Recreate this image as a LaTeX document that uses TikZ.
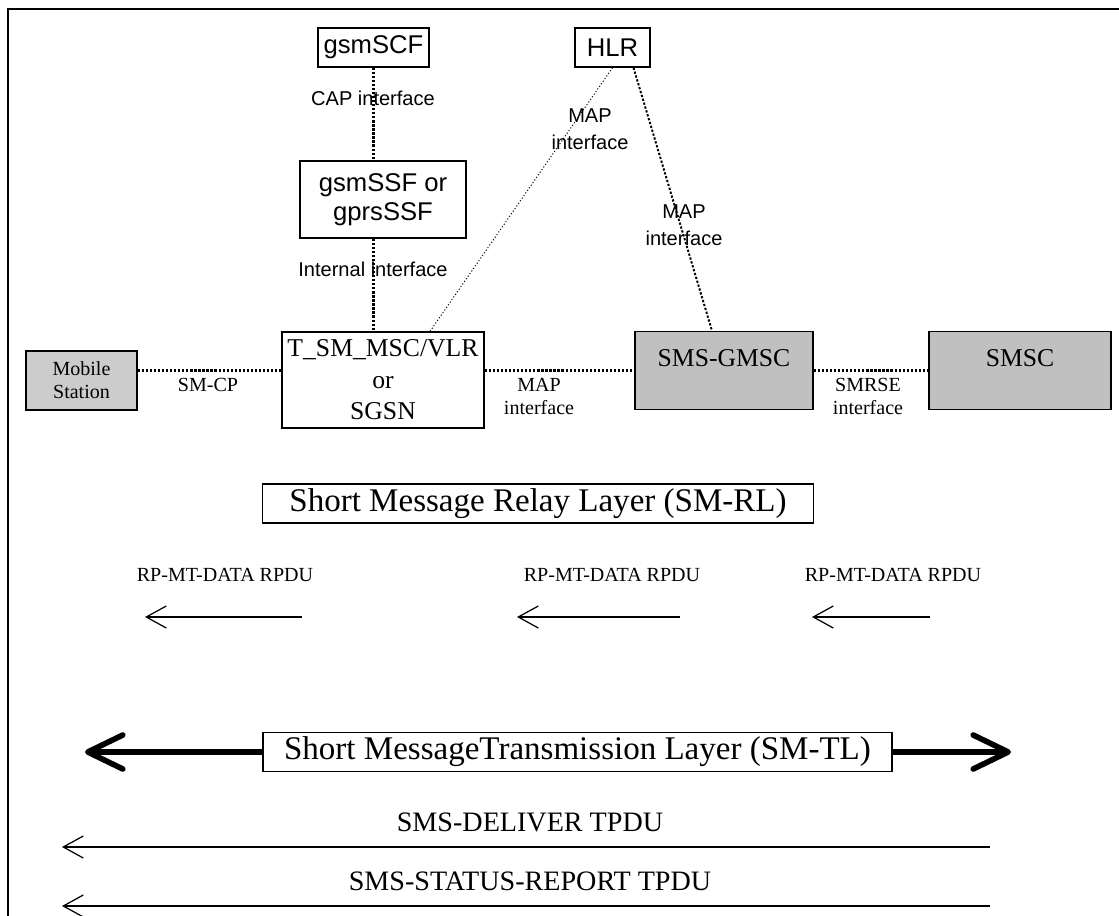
\documentclass[tikz,border=0pt]{standalone}
\usepackage{fontspec}
\setmainfont{Liberation Serif}
\setsansfont{Liberation Sans}
\usepackage{tikz}
\usetikzlibrary{arrows.meta,calc}
\definecolor{boxgray}{HTML}{C0C0C0}
\definecolor{msgray}{HTML}{CCCCCC}
\newcommand{\boxsf}{\sffamily\fontsize{14.6}{16.4}\selectfont}
\newcommand{\labsf}{\sffamily\fontsize{11.4}{15.4}\selectfont}
\newcommand{\boxrm}{\rmfamily\fontsize{14.6}{17.9}\selectfont}
\newcommand{\labrm}{\rmfamily\fontsize{11.4}{13.1}\selectfont}
\newcommand{\layerrm}{\rmfamily\fontsize{18.8}{22}\selectfont}
\newcommand{\pdurm}{\rmfamily\fontsize{16}{18}\selectfont}

\begin{document}
\begin{tikzpicture}[x=0.02cm,y=-0.02cm,
  box/.style={draw,line width=0.8pt,inner sep=0pt,align=center},
  graybox/.style={box,fill=boxgray,text height=0.7cm,text depth=0.86cm},
  link/.style={line width=1.3pt,densely dotted},
  thinlink/.style={line width=0.6pt,dash pattern=on 0.6pt off 1.2pt},
  pdu/.style={line width=0.7pt,-{Straight Barb[length=0.4cm,width=0.44cm]}},
  layer/.style={line width=3.2pt,-{Straight Barb[length=0.7cm,width=0.68cm,round]}}]
\useasboundingbox (0,0) rectangle (1119,916);
\draw[line width=1.3pt] (8,916) -- (8,9) -- (1119,9);

% network entities
\node[box,font=\boxsf,minimum width=2.22cm,minimum height=0.78cm] (scf) at (373.5,47.5) {gsmSCF};
\node[box,font=\boxsf,minimum width=1.5cm,minimum height=0.78cm] (hlr) at (612.5,47.5) {HLR};
\node[box,font=\boxsf,minimum width=3.32cm,minimum height=1.54cm] (ssf) at (383,199.5) {gsmSSF or\\gprsSSF};
\node[box,font=\boxrm,minimum width=4.04cm,minimum height=1.92cm] (msc) at (383,380) {T\_SM\_MSC/VLR\\or\\SGSN};
\node[box,fill=msgray,font=\labrm,minimum width=2.22cm,minimum height=1.18cm] (ms) at (81.5,380.5) {Mobile\\Station};
\node[graybox,font=\boxrm,minimum width=3.56cm] (gmsc) at (724,370.5) {SMS-GMSC};
\node[graybox,font=\boxrm,minimum width=3.64cm] (smsc) at (1020,370.5) {SMSC};

% interfaces
\draw[link] (scf.south) -- (ssf.north -| scf);
\draw[link] (ssf.south -| scf) -- (msc.north -| scf);
\draw[thinlink] (hlr.south) -- ($(msc.north)+(47,0)$);
\draw[link,line width=1.1pt] ($(hlr.south)+(21,0)$) -- ($(gmsc.north)+(-12,0)$);
\draw[link] (ms.east |- gmsc) -- (msc.west |- gmsc);
\draw[link] (msc.east |- gmsc) -- (gmsc.west);
\draw[link] (gmsc) -- (smsc);

\node[font=\labsf] (caplab) at (373,98) {CAP interface};
\node[font=\labsf] (intlab) at (373,269) {Internal interface};
\node[font=\labsf,align=center] (hlrmsclab) at (590,129) {MAP\\interface};
\node[font=\labsf,align=center] (hlrgmsclab) at (684,225) {MAP\\interface};
\node[font=\labrm] (smcplab) at (208,385) {SM-CP};
\node[font=\labrm,align=center] (maplab) at (539,396) {MAP\\interface};
\node[font=\labrm,align=center] (smrselab) at (868,396) {SMRSE\\interface};

% relay layer
\node[box,font=\layerrm,minimum width=11.02cm,minimum height=0.78cm] (rl) at (538,503.5) {Short Message Relay Layer (SM-RL)};
\foreach \i/\lx/\ax/\bx in {1/225/302/145,2/612/680/517,3/893/930/812}{
  \node[font=\labrm] (rp\i) at (\lx,575) {RP-MT-DATA RPDU};
  \coordinate (rpa\i) at (\ax,617);
  \coordinate (rpb\i) at (\bx,617);
  \draw[pdu] (rpa\i) -- (rpb\i);
}

% transfer layer
\node[box,font=\layerrm,minimum width=12.58cm,minimum height=0.78cm] (tl) at (577.5,752) {Short MessageTransmission Layer (SM-TL)};
\coordinate (tlleft) at (85,752);
\coordinate (tlright) at (1011,752);
\draw[layer] (tl.west) -- (tlleft);
\draw[layer] (tl.east) -- (tlright);

\node[font=\pdurm] (deliver) at (530,822) {SMS-DELIVER TPDU};
\node[font=\pdurm] (status) at (530,881) {SMS-STATUS-REPORT TPDU};
\coordinate (dlvr) at (990,847);
\coordinate (dlvl) at (62,847);
\coordinate (star) at (990,906);
\coordinate (stal) at (62,906);
\draw[pdu] (dlvr) -- (dlvl);
\draw[pdu] (star) -- (stal);
\end{tikzpicture}
\end{document}
